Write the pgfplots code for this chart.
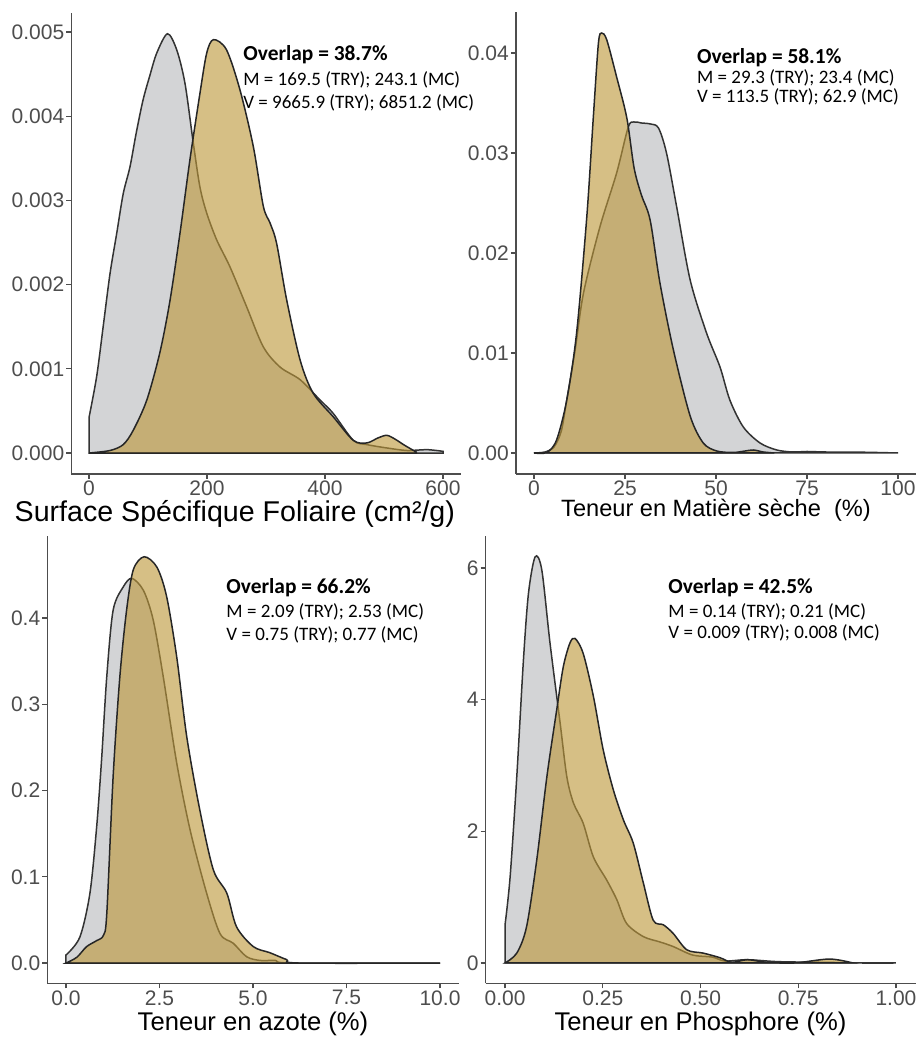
\documentclass[border=0pt]{standalone}
\usepackage{pgfplots}
\pgfplotsset{compat=1.18}
\usepackage{fontspec}
\setmainfont{Liberation Sans}
\newfontfamily\calibri{Carlito}
\definecolor{trygrey}{HTML}{D3D4D6}
\definecolor{mcgold}{RGB}{189,152,58}
\definecolor{axisgrey}{HTML}{4D4D4D}
\pgfplotsset{
  dens/.style={
    scale only axis,
    clip=false,
    axis lines*=left,
    axis line style={axisgrey, line width=0.7pt},
    tick align=outside,
    major tick length=2.5pt,
    tick style={axisgrey, line width=0.6pt},
    tick label style={font=\fontsize{10.5}{12}\selectfont, color=axisgrey},
    xticklabel style={yshift=2.5pt},
    yticklabel style={xshift=2.5pt},
    label style={font=\fontsize{12.8}{14}\selectfont},
    /pgf/number format/assume math mode=true,
    scaled ticks=false,
  },
  try/.style={draw=black!80, line width=0.75pt, fill=trygrey, smooth},
  mc/.style={draw=black!85, line width=0.75pt, fill=mcgold, fill opacity=0.62, smooth},
}
\tikzset{
  bold/.style={anchor=west, inner sep=0pt, font=\calibri\bfseries\fontsize{10.7}{12}\selectfont},
  note/.style={anchor=west, inner sep=0pt, font=\calibri\fontsize{9.5}{12}\selectfont},
}
\begin{document}
\begin{tikzpicture}
\useasboundingbox (0,0) rectangle (459pt,524pt);

% Surface specifique foliaire
\begin{axis}[dens, at={(35.65pt,287pt)}, anchor=south west,
  width=194.7pt, height=230.65pt,
  xmin=-30, xmax=630, ymin=-0.000249, ymax=0.00523,
  xtick={0,200,400,600},
  ytick={0,0.001,0.002,0.003,0.004,0.005},
  yticklabel style={/pgf/number format/.cd, fixed, fixed zerofill, precision=3},
  xlabel={Surface Spécifique Foliaire (cm²/g)},
  every axis x label/.append style={at={(ticklabel cs:0.42)}, yshift=4.5pt,
    font=\fontsize{14.3}{16}\selectfont},
]
\addplot[try] coordinates {
(0,0.00042) (13,0.00091) (24,0.0015) (35.6,0.00213) (47,0.00261) (58,0.00308)
(69.5,0.0034) (80,0.0038) (91.5,0.00419) (103,0.00448) (114.8,0.00475)
(133,0.00498) (148.6,0.00479)
(162.7,0.00439) (176.8,0.00368) (188,0.00316) (199.5,0.00285) (216.5,0.00253)
(239,0.00221) (267,0.00174) (295.5,0.00126) (324,0.00102) (358,0.00087)
(391.5,0.00063) (414,0.00047) (448,0.00015) (471,0.0001) (505,0.00006)
(539,0.00003) (573,0.00004) (600,0.00002)
} \closedcycle;
\addplot[mc] coordinates {
(0,0) (35.6,0.00003) (58,0.0001) (75,0.00027) (98,0.00063) (120,0.00119)
(137,0.0018) (154,0.0026) (171,0.00348) (188,0.00427) (199.5,0.00475)
(211,0.00491) (233,0.00479) (256,0.00431) (278.5,0.00364) (295.5,0.00293)
(307,0.00273) (318,0.00249) (335,0.00182) (358,0.0011) (380,0.00071)
(414,0.00043) (448,0.00015) (471,0.00012) (490,0.00018) (505,0.00021)
(520,0.00016) (533,0.0001) (555,0.00001)
} \closedcycle;
\node[bold] at (axis cs:261,0.004727) {Overlap = 38.7\%};
\node[note] at (axis cs:261,0.00443) {M = 169.5 (TRY); 243.1 (MC)};
\node[note] at (axis cs:261,0.004157) {V = 9665.9 (TRY); 6851.2 (MC)};
\end{axis}

% Teneur en matiere seche
\begin{axis}[dens, at={(257.9pt,287pt)}, anchor=south west,
  width=200.2pt, height=231pt,
  xmin=-5, xmax=105, ymin=-0.0021, ymax=0.0441,
  xtick={0,25,50,75,100},
  ytick={0,0.01,0.02,0.03,0.04},
  yticklabel style={/pgf/number format/.cd, fixed, fixed zerofill, precision=2},
  xlabel={Teneur en Matière sèche\ \ (\%)},
  every axis x label/.append style={yshift=5.5pt, font=\fontsize{11.8}{14}\selectfont},
]
\addplot[try] coordinates {
(0,0) (3,0.0001) (5.5,0.0006) (7.5,0.0022) (9,0.0053) (11.3,0.0103) (13.6,0.016)
(18.1,0.0226) (22.7,0.028) (25.9,0.0326) (27.5,0.0331) (29.5,0.033) (32,0.0329)
(34.2,0.0325) (36.4,0.03) (39.2,0.0246) (42.9,0.0173) (47.4,0.012) (51.1,0.0086)
(53.8,0.0053) (57.5,0.0026) (62.1,0.001) (66.7,0.0003) (71,0.0001) (75,0.00015)
(80,0.0001) (90,0.00008) (100,0)
} \closedcycle;
\addplot[mc] coordinates {
(0,0) (3.5,0.00005) (6.2,0.0013) (9,0.0053) (11.7,0.012) (14.5,0.0236)
(16.3,0.0336) (17.7,0.041) (18.6,0.042) (20,0.0413) (22.7,0.0376) (25.5,0.0335)
(27.5,0.0285) (29.5,0.0258) (31.9,0.0233) (34.6,0.017) (38.3,0.0103) (42.9,0.0037)
(46.5,0.001) (50.2,0.0002) (54.7,0.00005) (58,0.0002) (60.3,0.0003) (63,0.0001) (66,0)
} \closedcycle;
\node[bold] at (axis cs:44.7,0.0395) {Overlap = 58.1\%};
\node[note] at (axis cs:44.7,0.0375) {M = 29.3 (TRY); 23.4 (MC)};
\node[note] at (axis cs:44.7,0.0356) {V = 113.5 (TRY); 62.9 (MC)};
\end{axis}

% Teneur en azote
\begin{axis}[dens, at={(23.65pt,32.3pt)}, anchor=south west,
  width=205.7pt, height=223.5pt,
  xmin=-0.5, xmax=10.5, ymin=-0.0236, ymax=0.4946,
  xtick={0,2.5,5,7.5,10},
  ytick={0,0.1,0.2,0.3,0.4},
  xticklabel style={/pgf/number format/.cd, fixed, fixed zerofill, precision=1},
  yticklabel style={/pgf/number format/.cd, fixed, fixed zerofill, precision=1},
  xlabel={Teneur en azote (\%)},
  every axis x label/.append style={yshift=3.5pt},
]
\addplot[try] coordinates {
(0,0.0093) (0.37,0.03) (0.64,0.081) (0.82,0.158) (0.95,0.235) (1.09,0.332)
(1.26,0.409) (1.53,0.436) (1.76,0.446) (2.07,0.432) (2.33,0.398) (2.6,0.332)
(2.96,0.232) (3.32,0.154) (3.76,0.081) (4.12,0.034) (4.47,0.023) (4.83,0.0073)
(5.19,0.003) (5.6,0.003) (6.05,0) (10,0)
} \closedcycle;
\addplot[mc] coordinates {
(0,0) (0.29,0.0067) (0.55,0.019) (0.82,0.026) (1,0.032) (1.09,0.057) (1.26,0.216)
(1.44,0.332) (1.62,0.409) (1.8,0.456) (2.09,0.471) (2.43,0.459) (2.69,0.425)
(2.96,0.355) (3.23,0.262) (3.58,0.177) (3.94,0.108) (4.3,0.081) (4.56,0.042)
(5.01,0.019) (5.45,0.012) (5.9,0.004) (6.25,0) (10,0)
} \closedcycle;
\node[bold] at (axis cs:4.28,0.4348) {Overlap = 66.2\%};
\node[note] at (axis cs:4.28,0.407) {M = 2.09 (TRY); 2.53 (MC)};
\node[note] at (axis cs:4.28,0.380) {V = 0.75 (TRY); 0.77 (MC)};
\end{axis}

% Teneur en phosphore
\begin{axis}[dens, at={(242.75pt,32.3pt)}, anchor=south west,
  width=215pt, height=223.5pt,
  xmin=-0.05, xmax=1.05, ymin=-0.31, ymax=6.48,
  xtick={0,0.25,0.5,0.75,1},
  ytick={0,2,4,6},
  xticklabel style={/pgf/number format/.cd, fixed, fixed zerofill, precision=2},
  xlabel={Teneur en Phosphore (\%)},
  every axis x label/.append style={yshift=3.5pt},
]
\addplot[try] coordinates {
(0,0.58) (0.013,1.31) (0.03,2.83) (0.047,4.6) (0.06,5.62) (0.077,6.17) (0.094,5.97)
(0.115,4.86) (0.141,3.64) (0.158,2.83) (0.175,2.43) (0.2,2.12) (0.226,1.61)
(0.26,1.26) (0.286,0.96) (0.311,0.6) (0.354,0.4) (0.396,0.32) (0.43,0.25)
(0.48,0.12) (0.53,0.09) (0.563,0.03) (0.62,0.05) (0.7,0.02) (0.82,0.01) (0.91,0) (1,0)
} \closedcycle;
\addplot[mc] coordinates {
(0,0) (0.03,0.15) (0.055,0.55) (0.081,1.56) (0.107,2.83) (0.132,3.84) (0.149,4.5)
(0.166,4.86) (0.179,4.93) (0.2,4.7) (0.226,4.05) (0.251,3.24) (0.277,2.63)
(0.303,2.17) (0.328,1.82) (0.354,1.21) (0.379,0.65) (0.405,0.58) (0.43,0.45)
(0.465,0.2) (0.507,0.15) (0.55,0.08) (0.58,0.01) (0.62,0.05) (0.67,0.01) (0.74,0)
(0.83,0.06) (0.89,0)
} \closedcycle;
\node[bold] at (axis cs:0.417,5.70) {Overlap = 42.5\%};
\node[note] at (axis cs:0.417,5.33) {M = 0.14 (TRY); 0.21 (MC)};
\node[note] at (axis cs:0.417,5.01) {V = 0.009 (TRY); 0.008 (MC)};
\end{axis}
\end{tikzpicture}
\end{document}
